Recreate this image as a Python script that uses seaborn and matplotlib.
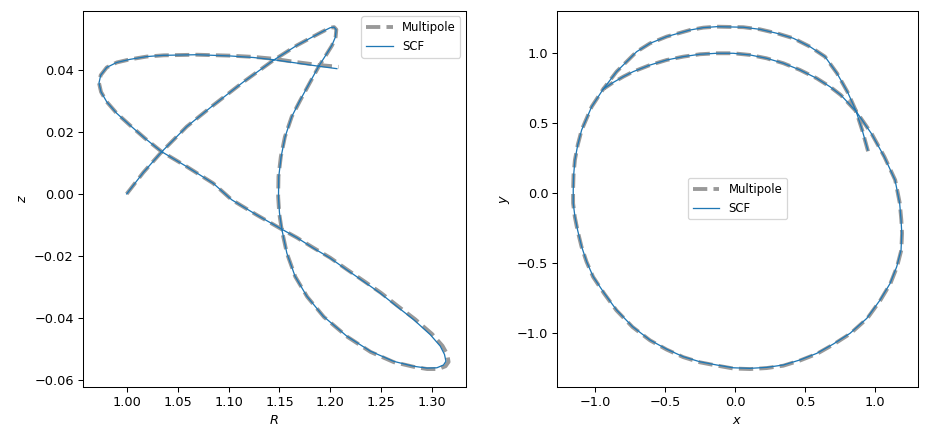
import matplotlib
matplotlib.use("Agg")
import matplotlib.pyplot as plt
import seaborn as sns

# ---------------- data ----------------
# Left panel: meridional plane (R, z) -- SCF
R_scf = [1.000, 1.0163, 1.0344, 1.0589, 1.085, 1.1145, 1.144, 1.167, 1.1833, 1.1931,
         1.1997, 1.2036, 1.2056, 1.2049, 1.2014, 1.1965, 1.1882, 1.1800, 1.1702, 1.1620,
         1.1555, 1.1516, 1.1493, 1.1490, 1.1500, 1.1523, 1.1572, 1.1653, 1.1768, 1.1931,
         1.2161, 1.2390, 1.2619, 1.2815, 1.2947, 1.3045, 1.3110, 1.3134, 1.3120, 1.3078,
         1.2980, 1.2815, 1.2652, 1.2488, 1.2324, 1.2161, 1.1997, 1.1833, 1.1670, 1.1523,
         1.1277, 1.1031, 1.0850, 1.0589, 1.0344, 1.0180, 1.0030, 0.9902, 0.9804, 0.9748,
         0.9728, 0.9745, 0.9804, 0.9902, 1.0032, 1.0196, 1.0360, 1.0688, 1.1015, 1.1244,
         1.1440, 1.1670, 1.1882, 1.2063]
z_scf = [0.0000, 0.0069, 0.0136, 0.0217, 0.0286, 0.0361, 0.0431, 0.0479, 0.0508, 0.0525,
         0.0536, 0.0538, 0.0530, 0.0506, 0.0479, 0.0453, 0.0410, 0.0361, 0.0302, 0.0249,
         0.0184, 0.0120, 0.0056, -0.0009, -0.0062, -0.0114, -0.0191, -0.0266, -0.0330, -0.0395,
         -0.0459, -0.0507, -0.0540, -0.0556, -0.0562, -0.0561, -0.0552, -0.0540, -0.0518, -0.0491,
         -0.0454, -0.0405, -0.0363, -0.0320, -0.0282, -0.0245, -0.0207, -0.0175, -0.0141, -0.0114,
         -0.0068, -0.0019, 0.0034, 0.0088, 0.0136, 0.0179, 0.0222, 0.0260, 0.0297, 0.0329,
         0.0358, 0.0383, 0.0408, 0.0424, 0.0434, 0.0443, 0.0447, 0.0449, 0.0445, 0.0440,
         0.0433, 0.0422, 0.0412, 0.0404]

# Left panel -- Multipole
R_mp = [1.000, 1.0163, 1.0344, 1.0589, 1.085, 1.1145, 1.144, 1.167, 1.1833, 1.1931,
        1.1997, 1.2036, 1.2058, 1.2051, 1.2016, 1.1967, 1.1884, 1.1802, 1.1704, 1.1620,
        1.1553, 1.1513, 1.1490, 1.1487, 1.1497, 1.1521, 1.1572, 1.1655, 1.1772, 1.1936,
        1.2166, 1.2395, 1.2624, 1.2820, 1.2950, 1.3060, 1.3130, 1.3160, 1.3148, 1.3100,
        1.2998, 1.2830, 1.2662, 1.2495, 1.2328, 1.2163, 1.1998, 1.1834, 1.1670, 1.1521,
        1.1277, 1.1031, 1.0850, 1.0589, 1.0344, 1.0180, 1.0030, 0.9902, 0.9804, 0.9748,
        0.9728, 0.9745, 0.9804, 0.9902, 1.0032, 1.0196, 1.0360, 1.0688, 1.1015, 1.1244,
        1.1440, 1.1670, 1.1882, 1.2080]
z_mp = [0.0000, 0.0069, 0.0136, 0.0217, 0.0286, 0.0361, 0.0431, 0.0479, 0.0508, 0.0525,
        0.0536, 0.0538, 0.0530, 0.0506, 0.0479, 0.0453, 0.0410, 0.0361, 0.0302, 0.0249,
        0.0184, 0.0120, 0.0056, -0.0009, -0.0062, -0.0114, -0.0191, -0.0267, -0.0332, -0.0397,
        -0.0461, -0.0510, -0.0543, -0.0558, -0.0565, -0.0565, -0.0556, -0.0542, -0.0518, -0.0490,
        -0.0452, -0.0404, -0.0362, -0.0319, -0.0281, -0.0244, -0.0206, -0.0174, -0.0141, -0.0114,
        -0.0068, -0.0019, 0.0034, 0.0088, 0.0136, 0.0179, 0.0222, 0.0260, 0.0297, 0.0329,
        0.0358, 0.0383, 0.0408, 0.0424, 0.0434, 0.0443, 0.0447, 0.0449, 0.0446, 0.0442,
        0.0436, 0.0425, 0.0416, 0.0410]

# Right panel: plane (x, y) -- SCF
x_scf = [0.948, 0.908, 0.865, 0.755, 0.678, 0.583, 0.463, 0.344, 0.225, 0.106,
         -0.014, -0.132, -0.252, -0.371, -0.490, -0.609, -0.729, -0.800, -0.875, -0.943,
         -1.026, -1.098, -1.126, -1.146, -1.155, -1.158, -1.158, -1.146, -1.127, -1.098,
         -1.062, -1.015, -0.936, -0.848, -0.733, -0.609, -0.490, -0.371, -0.252, -0.132,
         -0.014, 0.106, 0.225, 0.344, 0.463, 0.583, 0.702, 0.821, 0.941, 1.036,
         1.108, 1.155, 1.186, 1.191, 1.186, 1.176, 1.143, 1.066, 0.975, 0.865,
         0.805, 0.728, 0.642, 0.535, 0.416, 0.297, 0.177, 0.058, -0.132, -0.228,
         -0.323, -0.490, -0.609, -0.705, -0.848, -0.943]
y_scf = [0.309, 0.452, 0.585, 0.702, 0.761, 0.821, 0.881, 0.929, 0.964, 0.988,
         1.000, 1.000, 0.993, 0.976, 0.952, 0.916, 0.869, 0.833, 0.790, 0.745,
         0.619, 0.452, 0.345, 0.238, 0.130, 0.024, -0.071, -0.167, -0.262, -0.381,
         -0.489, -0.596, -0.714, -0.834, -0.953, -1.048, -1.113, -1.167, -1.203, -1.226,
         -1.246, -1.250, -1.243, -1.226, -1.190, -1.143, -1.076, -1.000, -0.893, -0.762,
         -0.643, -0.524, -0.405, -0.284, -0.191, -0.071, 0.095, 0.261, 0.425, 0.585,
         0.720, 0.857, 0.976, 1.047, 1.107, 1.143, 1.171, 1.186, 1.190, 1.183,
         1.166, 1.119, 1.071, 1.011, 0.869, 0.745]

# Right panel -- Multipole
x_mp = [0.950, 0.909, 0.865, 0.755, 0.678, 0.583, 0.463, 0.344, 0.225, 0.106,
        -0.014, -0.132, -0.252, -0.371, -0.490, -0.609, -0.729, -0.800, -0.875, -0.943,
        -1.026, -1.098, -1.126, -1.146, -1.156, -1.159, -1.159, -1.147, -1.128, -1.099,
        -1.063, -1.016, -0.937, -0.849, -0.734, -0.609, -0.490, -0.371, -0.252, -0.132,
        -0.014, 0.106, 0.225, 0.344, 0.463, 0.583, 0.703, 0.822, 0.943, 1.038,
        1.110, 1.157, 1.188, 1.193, 1.188, 1.177, 1.144, 1.067, 0.976, 0.865,
        0.805, 0.728, 0.642, 0.535, 0.416, 0.297, 0.177, 0.058, -0.132, -0.228,
        -0.323, -0.490, -0.609, -0.705, -0.848, -0.943]
y_mp = [0.300, 0.448, 0.585, 0.702, 0.761, 0.821, 0.881, 0.929, 0.964, 0.988,
        1.000, 1.000, 0.993, 0.976, 0.952, 0.916, 0.869, 0.833, 0.790, 0.745,
        0.619, 0.452, 0.345, 0.238, 0.130, 0.024, -0.071, -0.167, -0.262, -0.381,
        -0.489, -0.597, -0.716, -0.836, -0.955, -1.050, -1.116, -1.170, -1.207, -1.230,
        -1.251, -1.255, -1.248, -1.231, -1.194, -1.147, -1.079, -1.003, -0.895, -0.764,
        -0.644, -0.525, -0.405, -0.284, -0.191, -0.071, 0.095, 0.261, 0.425, 0.585,
        0.720, 0.857, 0.976, 1.047, 1.107, 1.143, 1.171, 1.186, 1.190, 1.183,
        1.166, 1.119, 1.071, 1.011, 0.869, 0.745]

labels = ["Multipole", "SCF"]

# ---------------- figure ----------------
DPI = 92.7
fig = plt.figure(figsize=(927 / DPI, 440 / DPI), dpi=DPI)
ax1 = fig.add_axes([82.7 / 927, (440 - 386.7) / 440, (466.0 - 82.7) / 927, 376.0 / 440])
ax2 = fig.add_axes([557.3 / 927, (440 - 386.7) / 440, (917.7 - 557.3) / 927, 376.0 / 440])

mp_style = dict(color="gray", alpha=0.8, lw=3, ls="--")
scf_style = dict(color="C0", lw=1)

sns.lineplot(x=R_mp, y=z_mp, sort=False, estimator=None, ax=ax1, label=labels[0], **mp_style)
sns.lineplot(x=R_scf, y=z_scf, sort=False, estimator=None, ax=ax1, label=labels[1], **scf_style)
sns.lineplot(x=x_mp, y=y_mp, sort=False, estimator=None, ax=ax2, label=labels[0], **mp_style)
sns.lineplot(x=x_scf, y=y_scf, sort=False, estimator=None, ax=ax2, label=labels[1], **scf_style)

ax1.set_xlim(0.9568, 1.3331)
ax1.set_ylim(-0.0622, 0.0591)
ax2.set_xlim(-1.272, 1.305)
ax2.set_ylim(-1.381, 1.304)

ax1.set_xlabel("$R$")
ax1.set_ylabel("$z$")
ax2.set_xlabel("$x$")
ax2.set_ylabel("$y$")

ax1.legend(loc="upper right", fontsize=9, handlelength=2.3)
ax2.legend(loc="center", fontsize=9, handlelength=2.3)

fig.savefig("out.png", dpi=DPI)
